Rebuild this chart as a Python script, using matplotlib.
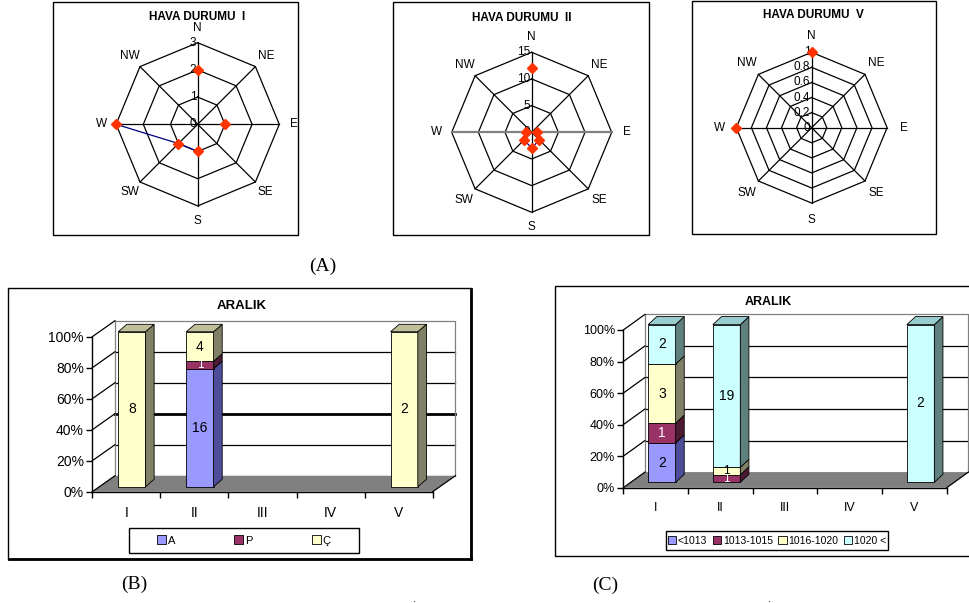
import numpy as np
import matplotlib
matplotlib.use('Agg')
import matplotlib.pyplot as plt
from matplotlib.patches import Rectangle, Polygon

plt.rcParams['font.family'] = ['Liberation Sans', 'DejaVu Sans']

W, H = 970, 603
nan = np.nan

# ---- wind roses ----
directions = ['N', 'NE', 'E', 'SE', 'S', 'SW', 'W', 'NW']
wind_i = [2, nan, 1, nan, 1, 1, 3, nan]
wind_ii = [12, nan, 1, 2, 3, 2, 1, nan]
wind_v = [1, nan, nan, nan, nan, nan, 1, nan]
ticks_i = [0, 1, 2, 3]
ticks_ii = [0, 5, 10, 15]
ticks_v = [0, 0.2, 0.4, 0.6, 0.8, 1]
tick_labels_i = ['0', '1', '2', '3']
tick_labels_ii = ['0', '5', '10', '15']
tick_labels_v = ['0', '0.2', '0.4', '0.6', '0.8', '1']

# ---- monthly bars (ARALIK) ----
categories = ['I', 'II', 'III', 'IV', 'V']
vis_labels = ['A', 'P', 'Ç']
vis_a = [0, 16, 0, 0, 0]
vis_p = [0, 1, 0, 0, 0]
vis_c = [8, 4, 0, 0, 2]
pres_labels = ['<1013', '1013-1015', '1016-1020', '1020 <']
pres_lt1013 = [2, 0, 0, 0, 0]
pres_1013_1015 = [1, 1, 0, 0, 0]
pres_1016_1020 = [3, 1, 0, 0, 0]
pres_gt1020 = [2, 19, 0, 0, 2]

BLUE, BLUE_S, BLUE_T = '#9999FF', '#4D4D99', '#7373BF'
MAROON, MAROON_S, MAROON_T = '#993366', '#4D1A33', '#73264D'
YELLOW, YELLOW_S, YELLOW_T = '#FFFFCC', '#808066', '#BFBF99'
CYAN, CYAN_S, CYAN_T = '#CCFFFF', '#608080', '#99CCCC'
MARKER = '#FF3300'

fig = plt.figure(figsize=(W / 100, H / 100), dpi=100)
fig.patch.set_facecolor('white')


def px_rect(x0, y0, x1, y1):
    return [x0 / W, 1 - y1 / H, (x1 - x0) / W, (y1 - y0) / H]


def frame(x0, y0, x1, y1, lw=1.0):
    fig.add_artist(Rectangle((x0 / W, 1 - y1 / H), (x1 - x0) / W, (y1 - y0) / H,
                             transform=fig.transFigure, fill=False,
                             ec='black', lw=lw))


def fig_text(x, y, s, **kw):
    fig.text(x / W, 1 - y / H, s, **kw)


def radar(cx, cy, R, values, ticks, tick_labels, title, title_xy, lab_r,
          gray_we=False):
    ax = fig.add_axes(px_rect(cx - R, cy - R, cx + R, cy + R), projection='polar')
    ax.set_theta_zero_location('N')
    ax.set_theta_direction(-1)
    rmax = ticks[-1]
    ax.set_ylim(0, rmax)
    ax.axis('off')
    theta = np.arange(8) * 2 * np.pi / 8
    ring = np.append(theta, theta[0])
    for t in ticks[1:]:
        ax.plot(ring, [t] * 9, color='black', lw=0.9, clip_on=False)
    for k, a in enumerate(theta):
        col, lw = 'black', 0.9
        if gray_we and directions[k] in ('E', 'W'):
            col, lw = '#808080', 1.6
        ax.plot([a, a], [0, rmax], color=col, lw=lw, clip_on=False)
    ax.plot(theta, values, color='#000080', lw=0.9, clip_on=False, zorder=3)
    ax.plot(theta, values, ls='none', marker='D', ms=5.5, color=MARKER,
            clip_on=False, zorder=4)
    for a, d in zip(theta, directions):
        ax.text(a, rmax * lab_r, d, ha='center', va='center', fontsize=8.5)
    for t, lbl in zip(ticks, tick_labels):
        ax.annotate(lbl, xy=(0, t), xytext=(-1, 0), textcoords='offset points',
                    ha='right', va='center', fontsize=8.5, zorder=2)
    fig_text(*title_xy, title, ha='center', va='center', fontsize=8.5,
             fontweight='bold')


frame(53, 2, 298, 235)
radar(197.7, 124.3, 81.6, wind_i, ticks_i, tick_labels_i, 'HAVA DURUMU  I',
      (197, 17), 1.18)
frame(393, 2, 649, 235)
radar(531.7, 132.3, 80, wind_ii, ticks_ii, tick_labels_ii, 'HAVA DURUMU  II',
      (522, 18), 1.19, gray_we=True)
frame(692, 1, 936, 234)
radar(811.7, 127.7, 75.4, wind_v, ticks_v, tick_labels_v, 'HAVA DURUMU  V',
      (813, 15), 1.22)


def bar_panel(rect, back, shift, bw, depth, stacks, faces, sides, tops,
              txt_cols, thick_grid, fs_tick, fs_cat, fs_val):
    ax = fig.add_axes(rect)
    ax.set_facecolor('none')
    n = len(categories)
    ax.set_xlim(0, n)
    ax.set_ylim(0, 1)
    dx, dy = back
    # floor
    ax.add_patch(Polygon([(0, 0), (n, 0), (n + dx, dy), (dx, dy)], closed=True,
                         fc='#808080', ec='none', clip_on=False, zorder=1))
    # back wall grid and outline
    for p in [0.2, 0.4, 0.6, 0.8]:
        lw = 2.0 if p in thick_grid else 0.9
        ax.plot([dx, n + dx], [p + dy, p + dy], color='black', lw=lw,
                clip_on=False, zorder=1)
    ax.plot([dx, dx, n + dx, n + dx], [dy, 1 + dy, 1 + dy, dy], color='#808080',
            lw=0.9, clip_on=False, zorder=1)
    # side wall lines
    for p in [0, 0.2, 0.4, 0.6, 0.8, 1.0]:
        ax.plot([0, dx], [p, p + dy], color='black', lw=0.9, clip_on=False,
                zorder=1)
    ax.plot([n, n + dx], [0, dy], color='black', lw=0.9, clip_on=False, zorder=1)

    # stacked 100% bars
    sx, sy = shift
    ddx, ddy = depth
    for i in range(n):
        vals = [s[i] for s in stacks]
        total = sum(vals)
        if total == 0:
            continue
        x0 = i + 0.5 + sx - bw / 2
        x1 = x0 + bw
        b = sy
        last = max(k for k, v in enumerate(vals) if v > 0)
        for k, v in enumerate(vals):
            if v == 0:
                continue
            h = v / total
            ax.bar(x0, h, width=bw, bottom=b, align='edge', color=faces[k],
                   edgecolor='black', lw=0.6, clip_on=False, zorder=3)
            ax.add_patch(Polygon([(x1, b), (x1 + ddx, b + ddy),
                                  (x1 + ddx, b + h + ddy), (x1, b + h)],
                                 closed=True, fc=sides[k], ec='black', lw=0.6,
                                 clip_on=False, zorder=3))
            if k == last:
                ax.add_patch(Polygon([(x0, b + h), (x1, b + h),
                                      (x1 + ddx, b + h + ddy),
                                      (x0 + ddx, b + h + ddy)],
                                     closed=True, fc=tops[k], ec='black', lw=0.6,
                                     clip_on=False, zorder=3))
            ax.text((x0 + x1) / 2, b + h / 2, str(v), ha='center', va='center',
                    fontsize=fs_val if h > 0.06 else fs_val - 1.5,
                    color=txt_cols[k], zorder=4)
            b += h

    # axes
    for side in ('top', 'right'):
        ax.spines[side].set_visible(False)
    for side in ('left', 'bottom'):
        ax.spines[side].set_linewidth(1.0)
        ax.spines[side].set_zorder(2)
    ax.set_yticks([0, 0.2, 0.4, 0.6, 0.8, 1.0])
    ax.set_yticklabels(['0%', '20%', '40%', '60%', '80%', '100%'],
                       fontsize=fs_tick)
    ax.set_xticks(range(n + 1))
    ax.set_xticklabels([])
    ax.set_xticks(np.arange(n) + 0.5, minor=True)
    ax.set_xticklabels(categories, minor=True, fontsize=fs_cat)
    ax.tick_params(axis='y', direction='out', length=4, width=1, pad=2)
    ax.tick_params(axis='x', which='major', direction='out', length=4, width=1)
    ax.tick_params(axis='x', which='minor', length=0, pad=10)
    return ax


# B panel
frame(8, 288, 471, 559)
fig.add_artist(plt.Line2D([471 / W, 471 / W], [1 - 289 / H, 1 - 559 / H],
                          transform=fig.transFigure, color='black', lw=2))
fig.add_artist(plt.Line2D([9 / W, 471 / W], [1 - 559 / H, 1 - 559 / H],
                          transform=fig.transFigure, color='black', lw=2))
fig_text(241.7, 305.7, 'ARALIK', ha='center', va='center', fontsize=9.5,
         fontweight='bold')
bar_panel(px_rect(92.3, 336.7, 432.7, 491.7), (0.333, 0.103), (0.081, 0.032),
          0.40, (0.127, 0.048), [vis_a, vis_p, vis_c],
          [BLUE, MAROON, YELLOW], [BLUE_S, MAROON_S, YELLOW_S],
          [BLUE_T, MAROON_T, YELLOW_T], ['black', 'white', 'black'],
          [0.4], 10, 10, 10)
frame(129, 528, 359, 553)
fig.legend([Rectangle((0, 0), 1, 1, fc=c, ec='black', lw=0.6)
            for c in (BLUE, MAROON, YELLOW)], vis_labels,
           loc='center', bbox_to_anchor=(244 / W, 1 - 540.5 / H), ncol=3,
           frameon=False, fontsize=8, handlelength=0.8, handleheight=0.8,
           handletextpad=0.2, columnspacing=5.3)

# C panel
frame(555, 286, 980, 556)
fig_text(768.3, 302.3, 'ARALIK', ha='center', va='center', fontsize=9,
         fontweight='bold')
bar_panel(px_rect(623.3, 330, 946.7, 487.7), (0.335, 0.099), (0.097, 0.034),
          0.424, (0.133, 0.051),
          [pres_lt1013, pres_1013_1015, pres_1016_1020, pres_gt1020],
          [BLUE, MAROON, YELLOW, CYAN], [BLUE_S, MAROON_S, YELLOW_S, CYAN_S],
          [BLUE_T, MAROON_T, YELLOW_T, CYAN_T],
          ['black', 'white', 'black', 'black'], [], 9, 9, 10)
frame(666, 531, 888, 550)
fig.legend([Rectangle((0, 0), 1, 1, fc=c, ec='black', lw=0.6)
            for c in (BLUE, MAROON, YELLOW, CYAN)], pres_labels,
           loc='center', bbox_to_anchor=(777 / W, 1 - 540.5 / H), ncol=4,
           frameon=False, fontsize=7.5, handlelength=0.8, handleheight=0.8,
           handletextpad=0.2, columnspacing=0.5)

# panel captions
for x, y, s in [(323, 266, '(A)'), (134, 584, '(B)'), (605, 585, '(C)')]:
    fig_text(x, y, s, ha='center', va='center', fontsize=14,
             family='Liberation Serif')
for x in (415, 770):
    fig_text(x, 599, '.', ha='center', va='center', fontsize=8)

fig.savefig('out.png', dpi=100)
